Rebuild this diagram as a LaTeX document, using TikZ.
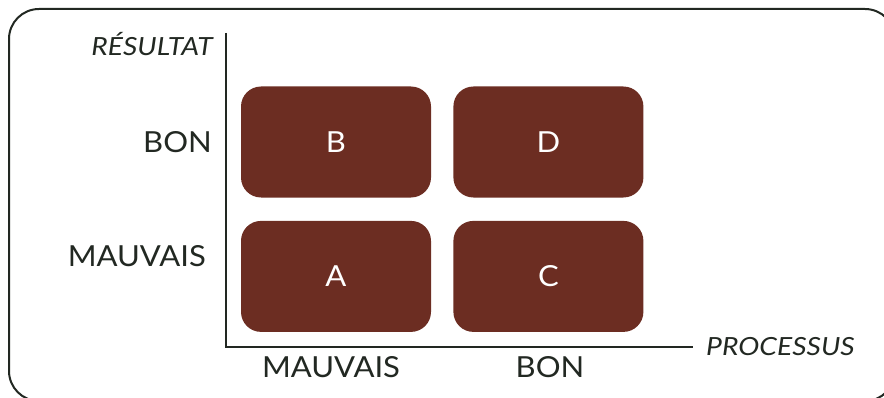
\documentclass[tikz,border=0pt]{standalone}
\usepackage{fontspec}
\setmainfont{Lato}[FakeStretch=1.07]
\newfontfamily\axefont{Lato}[FakeStretch=1.13]
\usetikzlibrary{positioning}
\definecolor{brique}{RGB}{108,45,34}
\definecolor{encre}{RGB}{34,40,34}

\begin{document}
\begin{tikzpicture}[x=1pt, y=1pt,
   case/.style={fill=brique, rounded corners=20pt, minimum width=190pt, minimum height=111pt,
      text=white, font=\fontsize{29}{29}\selectfont, inner sep=0pt},
   etiquette/.style={text=encre, font=\fontsize{29}{29}\selectfont, inner sep=0pt},
   axe/.style={text=encre, font=\axefont\itshape\fontsize{25}{25}\selectfont, inner sep=0pt}]
\useasboundingbox (0,0) rectangle (884,397);
\draw[encre, line width=2pt, rounded corners=30pt] (9,388) rectangle (895,-4);
% les quatre cases
\node[case] (B) at (336,255) {B};
\node[case, right=22pt of B] (D) {D};
\node[case, below=23pt of B] (A) {A};
\node[case, right=22pt of A] (C) {C};
% les axes
\coordinate (origine) at (226,50);
\coordinate (haut) at (226,364);
\coordinate (droite) at (693,50);
\draw[encre, line width=2.4pt] (haut) |- (droite);
\node[axe, anchor=north east] (resultat) at (213,365) {RÉSULTAT};
\node[axe, right=13pt of droite] (processus) {PROCESSUS};
\node[etiquette, anchor=east, xshift=-14pt] (bon) at (haut |- B) {BON};
\node[etiquette, anchor=east] (mauvais) at (206,141) {MAUVAIS};
\node[etiquette] (mauvaisx) at (331,30) {MAUVAIS};
\node[etiquette] (bonx) at (550,30) {BON};
\end{tikzpicture}
\end{document}
